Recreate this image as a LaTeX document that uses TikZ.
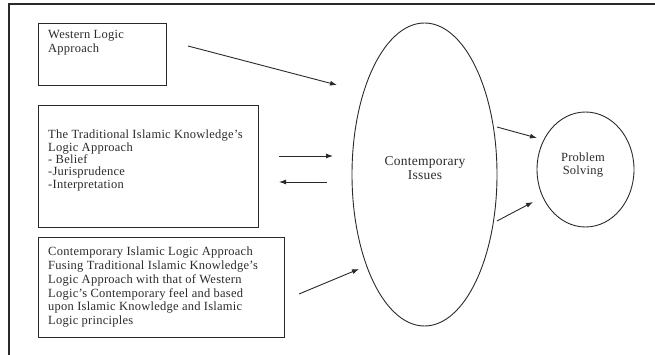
\documentclass[tikz,border=0pt]{standalone}
\usepackage{fontspec}
\setmainfont{Liberation Serif}[LetterSpace=2]
\usetikzlibrary{arrows.meta}
\definecolor{ink}{HTML}{2A2A2A}
\begin{document}
\begin{tikzpicture}[x=1pt,y=-1pt,
  box/.style={draw=ink, line width=0.9pt, anchor=north west, inner sep=0pt},
  txt/.style={anchor=north west, align=left, inner sep=0pt, text=ink},
  ctxt/.style={align=center, inner sep=0pt, text=ink, font=\fontsize{12.5}{13.5}\selectfont},
  arr/.style={draw=ink, line width=0.9pt, -{Latex[length=7pt,width=5pt]}}]
\useasboundingbox (0,0) rectangle (655,355);
% outer frame (top and left edges)
\coordinate (ftl) at (9,4);
\coordinate (ftr) at (655,4);
\coordinate (fbl) at (9,355);
\draw[ink, line width=1.1pt] (ftr) -- (ftl) -- (fbl);
% boxes
\node[box, minimum width=128pt, minimum height=62pt] (b1) at (38,23) {};
\node[box, minimum width=220pt, minimum height=122pt] (b2) at (38,105) {};
\node[box, minimum width=246pt, minimum height=100pt] (b3) at (38,237) {};
\node[txt, font=\fontsize{12.5}{14}\selectfont] (t1) at (48,30.5) {Western Logic\\Approach};
\node[txt, font=\fontsize{12.5}{12.3}\selectfont] (t2) at (48,130) {The Traditional Islamic Knowledge's\\Logic Approach\\- Belief\\-Jurisprudence\\-Interpretation};
\node[txt, font=\fontsize{12.5}{13.9}\selectfont] (t3) at (48,246.5) {Contemporary Islamic Logic Approach\\Fusing Traditional Islamic Knowledge's\\Logic Approach with that of Western\\Logic's Contemporary feel and based\\upon Islamic Knowledge and Islamic\\Logic principles};
% ellipse and circle
\draw[ink, line width=0.9pt] (424.5,174.5) ellipse [x radius=72.5pt, y radius=151.5pt];
\node[ctxt, font=\fontsize{13.5}{13.5}\selectfont] (ci) at (425,168) {Contemporary\\Issues};
\draw[ink, line width=0.9pt] (585.5,169.5) ellipse [x radius=48.5pt, y radius=57.5pt];
\node[ctxt] (ps) at (583,165) {Problem\\Solving};
% arrows
\coordinate (a1s) at (188,46); \coordinate (a1e) at (337,85);
\coordinate (a2s) at (279,156); \coordinate (a2e) at (333,156);
\coordinate (a3s) at (327,182); \coordinate (a3e) at (279,182);
\coordinate (a4s) at (299,294); \coordinate (a4e) at (359,269);
\coordinate (a5s) at (497,127); \coordinate (a5e) at (537,138);
\coordinate (a6s) at (497,221); \coordinate (a6e) at (533,202);
\draw[arr] (a1s) -- (a1e);
\draw[arr] (a2s) -- (a2e);
\draw[arr] (a3s) -- (a3e);
\draw[arr] (a4s) -- (a4e);
\draw[arr] (a5s) -- (a5e);
\draw[arr] (a6s) -- (a6e);
\end{tikzpicture}
\end{document}
